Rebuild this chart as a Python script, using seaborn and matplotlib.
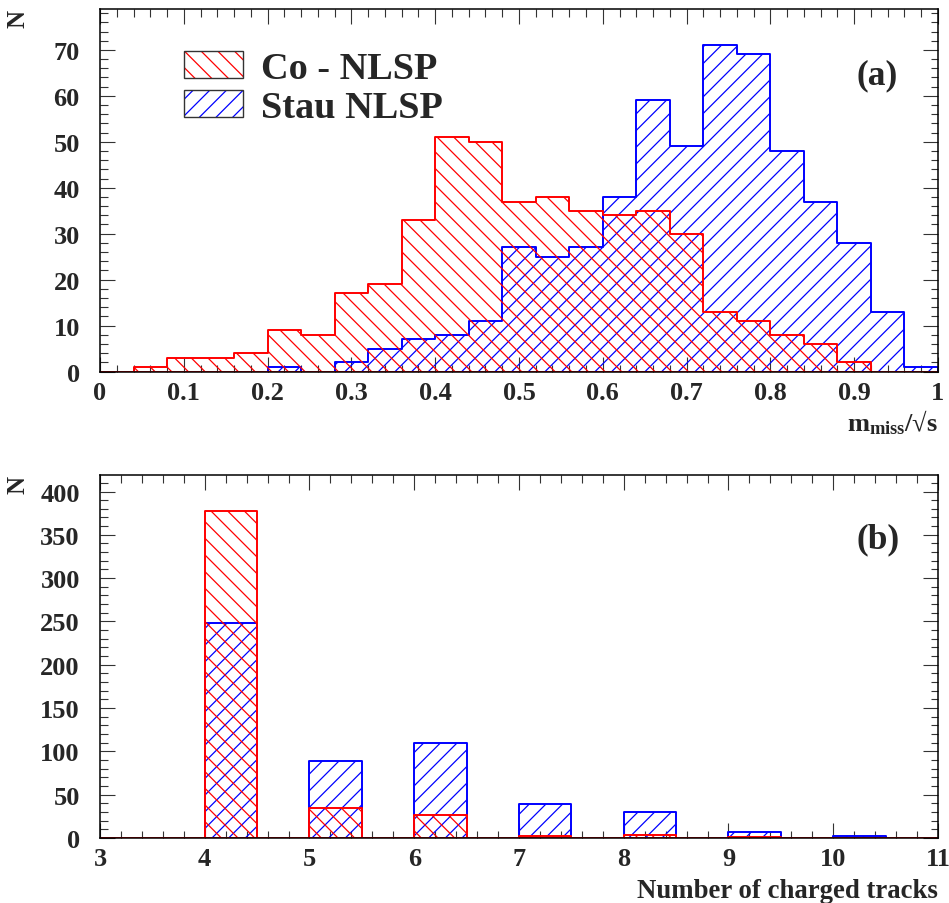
import numpy as np
import pandas as pd
import matplotlib
matplotlib.use("Agg")
import matplotlib.pyplot as plt
import seaborn as sns
from matplotlib.patches import Patch
from matplotlib.ticker import MultipleLocator, FuncFormatter
from matplotlib.legend_handler import HandlerTuple

# ---------------- data ----------------
mass_edges = [round(0.04 * k, 2) for k in range(26)]          # 25 bins of 0.04
co_mass = [0, 1, 3, 3, 4, 9, 8, 17, 19, 33, 51, 50, 37, 38, 35, 34, 35, 30, 13, 11, 8, 6, 2, 0, 0]
stau_mass = [0, 0, 0, 0, 0, 1, 0, 2, 5, 7, 8, 11, 27, 25, 27, 38, 59, 49, 71, 69, 48, 37, 28, 13, 1]

track_edges = [3.0 + 0.5 * k for k in range(17)]              # bins of 0.5
tracks = [4, 5, 6, 7, 8, 9, 10]
co_tracks = [377, 35, 27, 2, 3, 1, 0]
stau_tracks = [248, 89, 110, 39, 30, 7, 2]

labels = ["Co - NLSP", "Stau NLSP"]
colors = ["#ff0000", "#0000ff"]
hatches = ["\\\\", "//"]

me = np.array(mass_edges)
mass_centers = (me[:-1] + me[1:]) / 2
df_mass = pd.DataFrame({
    "x": np.concatenate([mass_centers, mass_centers]),
    "w": np.concatenate([co_mass, stau_mass]),
    "s": [labels[0]] * len(co_mass) + [labels[1]] * len(stau_mass),
})
track_pos = np.array(tracks) + 0.25
df_tr = pd.DataFrame({
    "x": np.concatenate([track_pos, track_pos]),
    "w": np.concatenate([co_tracks, stau_tracks]),
    "s": [labels[0]] * len(co_tracks) + [labels[1]] * len(stau_tracks),
})

# ---------------- style ----------------
sns.set_style("ticks")
plt.rcParams["font.family"] = ["Liberation Serif", "DejaVu Serif"]
plt.rcParams["font.weight"] = "bold"
plt.rcParams["mathtext.default"] = "regular"
plt.rcParams["hatch.linewidth"] = 0.9
plt.rcParams["axes.linewidth"] = 1.1

fig = plt.figure(figsize=(9.49, 9.04), dpi=100)
ax1 = fig.add_axes([0.10537, 0.58794, 0.8830, 0.4010])
ax2 = fig.add_axes([0.10537, 0.0719, 0.8830, 0.4015])

for ax, df, edges in [(ax1, df_mass, mass_edges), (ax2, df_tr, track_edges)]:
    for i in [1, 0]:
        sub = df[df["s"] == labels[i]]
        sns.histplot(data=sub, x="x", weights="w", bins=list(edges), element="step",
                     fill=True, color=colors[i], facecolor="none", edgecolor=colors[i],
                     hatch=hatches[i], linewidth=1.4, ax=ax)

fmt = FuncFormatter(lambda v, p: "%g" % v)
ax1.set_xlim(0, 1)
ax1.set_ylim(0, 78.9)
ax1.xaxis.set_major_locator(MultipleLocator(0.1))
ax1.xaxis.set_minor_locator(MultipleLocator(0.02))
ax1.yaxis.set_major_locator(MultipleLocator(10))
ax1.yaxis.set_minor_locator(MultipleLocator(2))
ax2.set_xlim(3, 11)
ax2.set_ylim(0, 419)
ax2.xaxis.set_major_locator(MultipleLocator(1))
ax2.xaxis.set_minor_locator(MultipleLocator(0.2))
ax2.yaxis.set_major_locator(MultipleLocator(50))
ax2.yaxis.set_minor_locator(MultipleLocator(10))

for ax in (ax1, ax2):
    ax.xaxis.set_major_formatter(fmt)
    ax.yaxis.set_major_formatter(fmt)
    ax.tick_params(which="both", direction="in", top=True, right=True, width=0.8, color="#333333")
    ax.tick_params(which="major", length=10.8)
    ax.tick_params(which="minor", length=5.4)
    ax.tick_params(axis="x", which="major", pad=6.5, labelsize=19)
    ax.tick_params(axis="y", which="major", pad=14.5, labelsize=19)
    for sp in ax.spines.values():
        sp.set_visible(True)
        sp.set_color("black")
    ax.grid(False)

# axis labels
ax1.set_ylabel("N", fontsize=18, fontweight="bold", rotation=90, ha="center", va="center")
ax1.yaxis.set_label_coords(-0.0973, 0.975)
ax2.set_ylabel("N", fontsize=18, fontweight="bold", rotation=90, ha="center", va="center")
ax2.yaxis.set_label_coords(-0.0973, 0.9766)

ax1.set_xlabel("m$_{\\mathregular{miss}}$/√s", fontsize=19, fontweight="bold", ha="right", va="baseline")
ax1.xaxis.set_label_coords(1.0, -0.163)
ax2.set_xlabel("Number of charged tracks", fontsize=19.3, fontweight="bold", ha="right", va="baseline")
ax2.xaxis.set_label_coords(1.0, -0.1625)

ax1.text(0.927, 0.818, "(a)", transform=ax1.transAxes, fontsize=25.5, fontweight="bold",
         ha="center", va="center")
ax2.text(0.928, 0.824, "(b)", transform=ax2.transAxes, fontsize=25.5, fontweight="bold",
         ha="center", va="center")

# legend
handles = []
for i in range(2):
    h_hatch = Patch(facecolor="none", edgecolor=colors[i], hatch=hatches[i], linewidth=0)
    h_box = Patch(facecolor="none", edgecolor="#333333", linewidth=1.0)
    handles.append((h_hatch, h_box))
ax1.legend(handles=handles, labels=labels, loc="upper left", bbox_to_anchor=(0.100, 0.885),
           frameon=False, prop={"weight": "bold", "size": 27.5},
           handlelength=1.545, handleheight=0.73, handletextpad=0.47, labelspacing=0.1,
           borderpad=0, borderaxespad=0,
           handler_map={tuple: HandlerTuple(ndivide=1)})

fig.savefig("out.png", dpi=100)
